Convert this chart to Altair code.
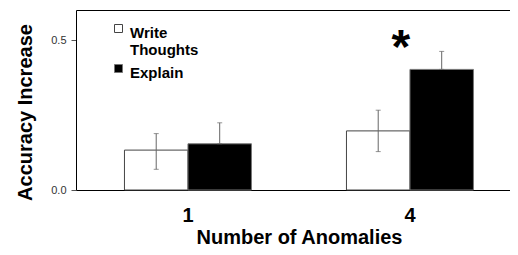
import altair as alt
import pandas as pd

conditions = ["Write Thoughts", "Write Thoughts", "Explain", "Explain"]
anomalies = ["1", "4", "1", "4"]
means = [0.133, 0.197, 0.154, 0.402]
err_hi = [0.188, 0.266, 0.224, 0.462]
err_lo = [0.069, 0.128, 0.154, 0.402]

sig_category = ["4"]
sig_value = [0.423]
sig_text = ["*"]

df = pd.DataFrame({"cond": conditions, "anom": anomalies, "mean": means,
                   "hi": err_hi, "lo": err_lo})
sig = pd.DataFrame({"anom": sig_category, "v": sig_value, "t": sig_text})

cond_order = ["Write Thoughts", "Explain"]
FONT = "Liberation Sans"

xscale = alt.Scale(domain=["1", "4"], paddingInner=0.428, paddingOuter=0.1915, align=0.57)
yscale = alt.Scale(domain=[0, 0.6], nice=False)
offscale = alt.Scale(domain=cond_order, paddingInner=0, paddingOuter=0)

x_axis = alt.Axis(title="Number of Anomalies", labelAngle=0, ticks=False,
                  labelFont=FONT, labelFontSize=20, labelFontWeight="bold",
                  labelColor="black", labelPadding=15, labelBaseline="top",
                  titleFont=FONT, titleFontSize=20, titleFontWeight="bold",
                  titleColor="black", titleBaseline="top", titleY=37,
                  titleX=223, titleAlign="center",
                  domainColor="black", domainWidth=1)
y_axis = alt.Axis(title="Accuracy Increase", values=[0, 0.5], format=".1f",
                  grid=False, labelFont=FONT, labelFontSize=11, labelColor="#333",
                  tickColor="#555", tickSize=5, labelPadding=5,
                  titleFont=FONT, titleFontSize=20, titleFontWeight="bold",
                  titleColor="black", titleX=-51, titleY=102, titleBaseline="middle",
                  titleAngle=-90, titleAlign="center",
                  domainColor="black", domainWidth=1)

base = alt.Chart(df)

bars = base.mark_bar(strokeWidth=1).encode(
    x=alt.X("anom:N", scale=xscale, axis=x_axis, sort=["1", "4"]),
    xOffset=alt.XOffset("cond:N", scale=offscale),
    y=alt.Y("mean:Q", scale=yscale, axis=y_axis),
    fill=alt.Fill("cond:N", scale=alt.Scale(domain=cond_order, range=["white", "black"]),
                  legend=alt.Legend(title=None, orient="none", legendX=35, legendY=8,
                                    symbolType="M-1,-0.25H1V1.75H-1Z", symbolSize=64,
                                    symbolStrokeColor="black", symbolStrokeWidth=1,
                                    labelFont=FONT, labelFontSize=15, labelFontWeight="bold",
                                    labelColor="black", labelBaseline="top", labelOffset=4,
                                    labelExpr="datum.label == 'Write Thoughts' ? ['Write', 'Thoughts'] : datum.label",
                                    rowPadding=-4, padding=0, labelLimit=200)),
    stroke=alt.Stroke("cond:N", scale=alt.Scale(domain=cond_order, range=["#444", "#777"]), legend=None),
)

err = base.mark_rule(color="#666", strokeWidth=1).encode(
    x=alt.X("anom:N", scale=xscale, sort=["1", "4"], axis=None),
    xOffset=alt.XOffset("cond:N", scale=offscale),
    y=alt.Y("lo:Q", scale=yscale),
    y2="hi:Q",
)
cap_hi = base.mark_tick(color="#666", size=5, thickness=1).encode(
    x=alt.X("anom:N", scale=xscale, sort=["1", "4"], axis=None),
    xOffset=alt.XOffset("cond:N", scale=offscale),
    y=alt.Y("hi:Q", scale=yscale),
)
cap_lo = base.mark_tick(color="#666", size=5, thickness=1).encode(
    x=alt.X("anom:N", scale=xscale, sort=["1", "4"], axis=None),
    xOffset=alt.XOffset("cond:N", scale=offscale),
    y=alt.Y("lo:Q", scale=yscale),
)

star = alt.Chart(sig).mark_text(font=FONT, fontSize=48, fontWeight="bold", color="black",
                                dx=-9, baseline="alphabetic").encode(
    x=alt.X("anom:N", scale=xscale, sort=["1", "4"], axis=None),
    y=alt.Y("v:Q", scale=yscale),
    text="t:N",
)

top_frame = alt.Chart(sig).mark_text(opacity=0).encode(
    x=alt.X("anom:N", scale=xscale, sort=["1", "4"],
            axis=alt.Axis(orient="top", labels=False, ticks=False, title=None,
                          domainColor="black", domainWidth=1)),
    y=alt.Y("v:Q", scale=yscale),
    text="t:N",
)

chart = alt.layer(bars, err, cap_hi, cap_lo, star, top_frame).resolve_axis(
    x="independent"
).properties(
    width=434, height=180,
    autosize=alt.AutoSizeParams(type="none"),
    padding={"left": 68, "top": 2, "right": 0, "bottom": 57},
).configure_view(stroke=None)

chart.save("out.html", embed_options={"renderer": "svg", "actions": False})
